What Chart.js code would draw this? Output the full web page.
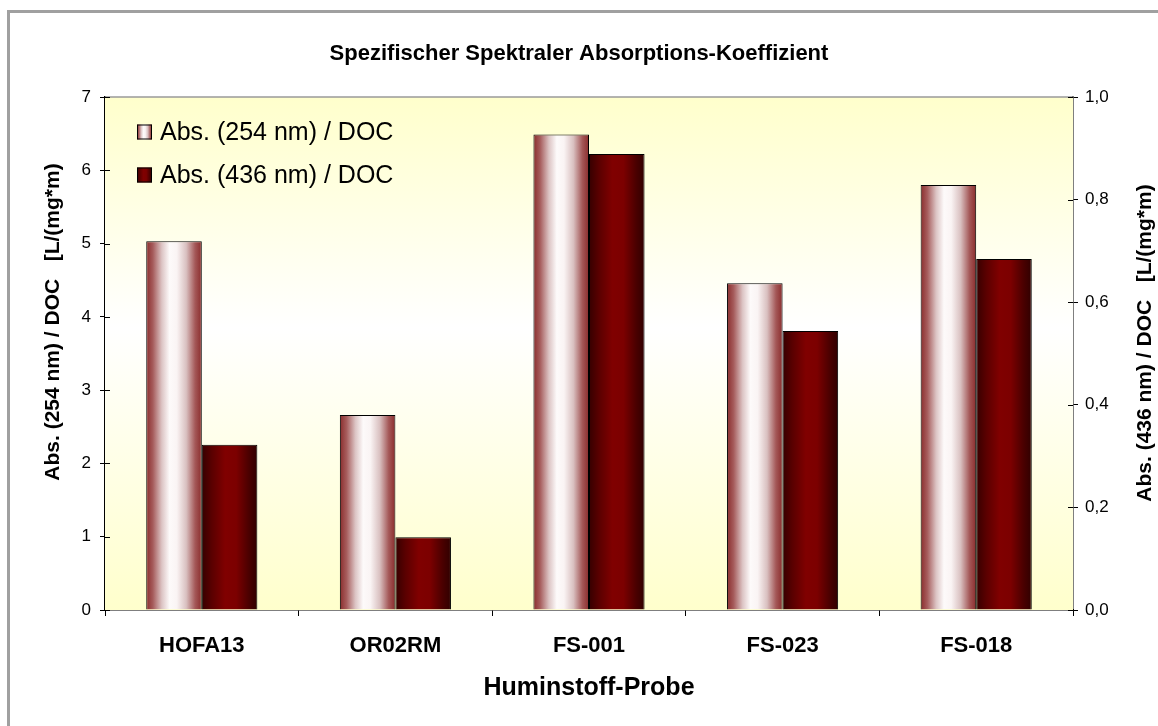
<!DOCTYPE html>
<html>
<head>
<meta charset="utf-8">
<title>Spezifischer Spektraler Absorptions-Koeffizient</title>
<script src="https://cdn.jsdelivr.net/npm/chart.js@4.4.1/dist/chart.umd.min.js"></script>
<style>
  html, body { margin: 0; padding: 0; background: #fff; overflow: hidden; }
  #frame { position: absolute; left: 7px; top: 10px; width: 1200px; height: 800px; border: 3px solid #a0a0a0; }
  #wrap { position: absolute; left: 0; top: 0; width: 1158px; height: 726px; }
</style>
</head>
<body>
<div id="frame"></div>
<div id="wrap"><canvas id="chart" width="1158" height="726"></canvas></div>
<script>
// Huminstoff-Proben und SUVA-Werte
const samples = ['HOFA13', 'OR02RM', 'FS-001', 'FS-023', 'FS-018'];
const abs254 = [5.03, 2.66, 6.49, 4.46, 5.80];       // linke Achse
const abs436 = [0.322, 0.142, 0.889, 0.544, 0.684];  // rechte Achse
const leftTicks = [0, 1, 2, 3, 4, 5, 6, 7];
const rightTicks = [0, 0.2, 0.4, 0.6, 0.8, 1.0];

const FONT = "'Liberation Sans', Arial, sans-serif";
const CAT_PCT = 0.574;

// Zylinder-Optik: horizontale Verläufe pro Balken
const STOPS_254 = [[0, '#8a2c2c'], [0.12, '#a65c5c'], [0.28, '#dcc4c4'], [0.42, '#fdfafa'], [0.55, '#faf4f4'], [0.72, '#d9c0c0'], [0.88, '#a45858'], [1, '#8a2c2c']];
const STOPS_436 = [[0, '#360000'], [0.18, '#5a0000'], [0.42, '#800000'], [0.62, '#7c0000'], [0.85, '#4a0000'], [1, '#300000']];

function makeGradient(c2d, left, width, stops) {
  const g = c2d.createLinearGradient(left, 0, left + width, 0);
  stops.forEach(([o, col]) => g.addColorStop(o, col));
  return g;
}

function barFill(ctx, stops) {
  const chart = ctx.chart;
  const x = chart.scales.x;
  if (!x || ctx.dataIndex === undefined || !chart.chartArea) return stops[2][1];
  const catW = x.width / samples.length;
  const w = catW * CAT_PCT / 2;
  const c = x.getPixelForValue(ctx.dataIndex);
  const left = ctx.datasetIndex === 0 ? c - w : c;
  return makeGradient(chart.ctx, left, w, stops);
}

// Hintergrund der Zeichenfläche
const plotBackground = {
  id: 'plotBackground',
  beforeDatasetsDraw(chart) {
    const { ctx, chartArea: a } = chart;
    ctx.save();
    const g = ctx.createLinearGradient(0, a.top, 0, a.bottom);
    g.addColorStop(0, '#ffffcc');
    g.addColorStop(0.45, '#ffffff');
    g.addColorStop(1, '#ffffcc');
    ctx.fillStyle = g;
    ctx.fillRect(a.left, a.top, a.right - a.left, a.bottom - a.top);
    ctx.strokeStyle = '#9a9a9a';
    ctx.lineWidth = 1.5;
    ctx.beginPath();
    ctx.moveTo(a.left, a.top);
    ctx.lineTo(a.right, a.top);
    ctx.stroke();
    ctx.restore();
  }
};

function verticalText(ctx, text, x, y) {
  ctx.save();
  ctx.translate(x, y);
  ctx.rotate(-Math.PI / 2);
  ctx.font = 'bold 21px ' + FONT;
  ctx.fillStyle = '#000';
  ctx.textAlign = 'center';
  ctx.textBaseline = 'middle';
  ctx.fillText(text, 0, 0);
  ctx.restore();
}

// Teilstriche nach innen, Legende im Diagramm, Achsentitel links/rechts
const extras = {
  id: 'extras',
  afterDraw(chart) {
    const { ctx, chartArea: a, scales } = chart;
    ctx.save();
    ctx.strokeStyle = '#000';
    ctx.lineWidth = 1;
    leftTicks.forEach(v => {
      const y = Math.round(scales.y.getPixelForValue(v)) + 0.5;
      ctx.beginPath(); ctx.moveTo(a.left, y); ctx.lineTo(a.left + 5, y); ctx.stroke();
    });
    rightTicks.forEach(v => {
      const y = Math.round(scales.y1.getPixelForValue(v)) + 0.5;
      ctx.beginPath(); ctx.moveTo(a.right - 5, y); ctx.lineTo(a.right, y); ctx.stroke();
    });

    const rows = [[132, STOPS_254], [175, STOPS_436]];
    chart.data.datasets.forEach((ds, i) => {
      const [cy, stops] = rows[i];
      ctx.fillStyle = makeGradient(ctx, 137, 15, stops);
      ctx.fillRect(137, cy - 7.5, 15, 15);
      ctx.strokeStyle = '#000';
      ctx.strokeRect(137.5, cy - 7, 14, 14);
      ctx.fillStyle = '#000';
      ctx.font = '25px ' + FONT;
      ctx.textBaseline = 'middle';
      ctx.textAlign = 'left';
      ctx.fillText(ds.label, 160, cy + 1);
    });
    ctx.restore();

    verticalText(ctx, 'Abs. (254 nm) / DOC   [L/(mg*m)', 53, 322);
    verticalText(ctx, 'Abs. (436 nm) / DOC   [L/(mg*m)', 1145, 343);
  }
};

const commaFmt = v => v.toFixed(1).replace('.', ',');

new Chart(document.getElementById('chart'), {
  type: 'bar',
  data: {
    labels: samples,
    datasets: [
      {
        label: 'Abs. (254 nm) / DOC',
        data: abs254,
        yAxisID: 'y',
        backgroundColor: ctx => barFill(ctx, STOPS_254),
        borderColor: '#000',
        borderWidth: 1,
      },
      {
        label: 'Abs. (436 nm) / DOC',
        data: abs436,
        yAxisID: 'y1',
        backgroundColor: ctx => barFill(ctx, STOPS_436),
        borderColor: '#000',
        borderWidth: 1,
      },
    ],
  },
  options: {
    responsive: false,
    animation: false,
    events: [],
    categoryPercentage: CAT_PCT,
    barPercentage: 1,
    layout: { padding: 0 },
    plugins: {
      legend: { display: false },
      tooltip: { enabled: false },
      title: {
        display: true,
        text: 'Spezifischer Spektraler Absorptions-Koeffizient',
        color: '#000',
        font: { family: FONT, size: 22, weight: 'bold', lineHeight: 1.2 },
        padding: { top: 41, bottom: 29.6 },
      },
    },
    scales: {
      x: {
        grid: { display: true, drawOnChartArea: false, drawTicks: true, tickLength: 6, color: '#000', offset: true },
        border: { display: true, color: '#000', width: 1.5 },
        ticks: { color: '#000', padding: 17, maxRotation: 0, autoSkip: false, font: { family: FONT, size: 22, weight: 'bold' } },
        title: { display: true, text: 'Huminstoff-Probe', color: '#000', padding: { top: 0, bottom: 23 }, font: { family: FONT, size: 25, weight: 'bold', lineHeight: 1.2 } },
        afterFit: s => { s.height = 116; },
      },
      y: {
        position: 'left',
        min: 0,
        max: 7,
        afterBuildTicks: s => { s.ticks = leftTicks.map(v => ({ value: v })); },
        grid: { drawOnChartArea: false, drawTicks: true, tickLength: 5, color: '#000' },
        border: { display: true, color: '#000', width: 1.5 },
        ticks: { color: '#000', padding: 9, font: { family: FONT, size: 17 } },
        afterFit: s => { s.width = 105; },
      },
      y1: {
        position: 'right',
        min: 0,
        max: 1,
        afterBuildTicks: s => { s.ticks = rightTicks.map(v => ({ value: v })); },
        grid: { drawOnChartArea: false, drawTicks: true, tickLength: 5, color: '#000' },
        border: { display: true, color: '#000', width: 1.5 },
        ticks: { color: '#000', padding: 7, callback: v => commaFmt(v), font: { family: FONT, size: 17 } },
        afterFit: s => { s.width = 85; },
      },
    },
  },
  plugins: [plotBackground, extras],
});
</script>
</body>
</html>
